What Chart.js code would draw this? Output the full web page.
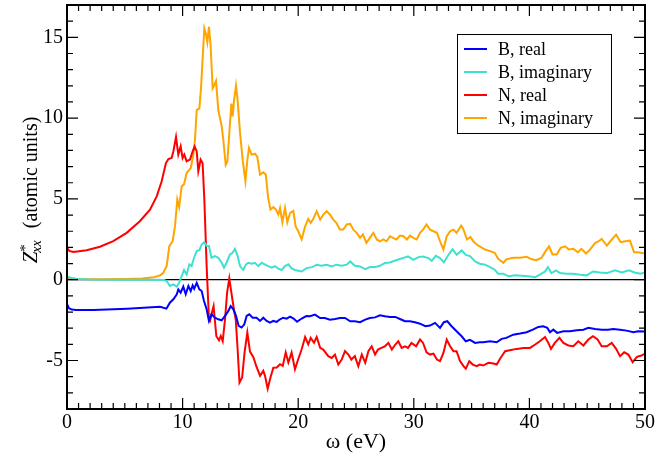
<!DOCTYPE html>
<html>
<head>
<meta charset="utf-8">
<script src="https://cdn.jsdelivr.net/npm/chart.js@4.4.1/dist/chart.umd.min.js"></script>
<style>
  html, body { margin: 0; padding: 0; background: #fff; }
  #wrap { width: 669px; height: 458px; position: relative; }
</style>
</head>
<body>
<div id="wrap"><canvas id="plot"></canvas></div>
<script>
// [omega (eV), Z*xx]
const bReal = [[0,-1.5],[0.15,-1.75],[0.4,-1.85],[0.8,-1.88],[2.3,-1.87],[5.2,-1.79],[8.05,-1.67],[8.6,-1.79],[8.9,-1.42],[9.2,-1.21],[9.5,-0.9],[9.63,-0.6],[9.83,-0.8],[10.06,-0.43],[10.27,-0.9],[10.5,-0.39],[10.7,-0.7],[10.87,-0.35],[11.0,-0.56],[11.22,-0.19],[11.45,-0.6],[11.65,-0.7],[11.85,-1.32],[12.08,-1.83],[12.28,-2.55],[12.5,-2.14],[12.8,-2.35],[13.09,-2.45],[13.38,-2.51],[13.67,-2.24],[13.96,-1.93],[14.16,-1.63],[14.39,-1.83],[14.62,-2.24],[14.85,-2.86],[15.1,-2.96],[15.34,-2.76],[15.54,-2.24],[15.77,-2.14],[16.06,-2.35],[16.4,-2.35],[16.7,-2.55],[16.98,-2.35],[17.27,-2.55],[17.56,-2.65],[17.85,-2.55],[18.14,-2.61],[18.43,-2.45],[18.7,-2.35],[19.0,-2.41],[19.3,-2.28],[19.6,-2.4],[19.9,-2.6],[20.3,-2.4],[20.7,-2.25],[21.02,-2.26],[21.45,-2.16],[21.9,-2.37],[22.3,-2.37],[22.75,-2.47],[23.2,-2.43],[23.6,-2.37],[24.05,-2.37],[24.5,-2.57],[24.9,-2.57],[25.35,-2.63],[25.8,-2.47],[26.2,-2.37],[26.65,-2.33],[27.07,-2.2],[27.5,-2.26],[27.94,-2.3],[28.4,-2.3],[28.8,-2.43],[29.24,-2.57],[29.67,-2.57],[30.1,-2.63],[30.54,-2.72],[31.0,-2.88],[31.4,-2.84],[31.84,-2.67],[32.27,-2.98],[32.6,-2.63],[32.9,-2.57],[33.27,-2.88],[33.7,-3.19],[34.14,-3.5],[34.5,-3.81],[34.86,-3.72],[35.3,-3.91],[35.7,-3.87],[36.0,-3.87],[36.6,-3.81],[37.17,-3.87],[37.6,-3.66],[38.0,-3.6],[38.6,-3.4],[39.2,-3.33],[39.76,-3.25],[40.3,-3.09],[40.77,-2.92],[41.2,-2.88],[41.55,-2.98],[41.78,-3.25],[42.07,-3.09],[42.4,-3.29],[42.94,-3.19],[43.5,-3.19],[44.1,-3.13],[44.67,-3.09],[45.1,-2.98],[45.68,-3.05],[46.25,-3.09],[46.8,-3.09],[47.26,-3.05],[47.84,-3.09],[48.4,-3.15],[49.0,-3.25],[49.4,-3.19],[50,-3.2]];

const bImag = [[0,0.2],[0.3,0.12],[0.8,0.05],[2,0.02],[5,0.0],[8.0,0.0],[8.4,-0.02],[8.62,-0.08],[8.9,-0.39],[9.2,-0.29],[9.49,-0.43],[9.7,-0.19],[9.92,0.23],[10.12,0.6],[10.35,0.33],[10.58,0.95],[10.78,0.84],[10.99,1.36],[11.22,1.77],[11.45,1.83],[11.65,2.18],[11.88,2.33],[12.08,2.08],[12.28,2.08],[12.5,1.36],[12.8,1.46],[13.09,1.36],[13.38,1.05],[13.58,0.74],[13.8,1.05],[14.1,1.56],[14.33,1.67],[14.53,1.91],[14.76,1.46],[14.97,0.84],[15.25,0.6],[15.48,0.95],[15.68,1.05],[15.97,0.99],[16.26,1.05],[16.55,0.84],[16.84,1.05],[17.1,0.95],[17.4,0.84],[17.7,0.74],[18.0,0.84],[18.28,0.68],[18.57,0.6],[18.86,0.84],[19.15,0.95],[19.43,0.7],[19.72,0.6],[20.3,0.51],[20.73,0.72],[21.2,0.78],[21.6,0.93],[22.0,0.86],[22.46,0.93],[22.9,0.82],[23.3,0.93],[23.76,0.86],[24.2,0.93],[24.5,1.13],[24.9,0.86],[25.35,0.82],[25.8,0.66],[26.2,0.78],[26.65,0.78],[27.07,0.86],[27.5,1.03],[27.94,1.07],[28.4,1.19],[28.8,1.28],[29.24,1.38],[29.5,1.44],[29.96,1.23],[30.4,1.4],[30.8,1.44],[31.26,1.34],[31.55,1.17],[31.9,1.48],[32.27,1.34],[32.6,1.07],[33.0,1.54],[33.36,1.89],[33.7,1.54],[34.14,1.81],[34.5,1.54],[34.86,1.46],[35.3,1.13],[35.7,0.99],[36.16,0.93],[36.6,0.78],[37.0,0.62],[37.3,0.37],[37.75,0.37],[38.2,0.21],[38.8,0.27],[39.33,0.25],[39.9,0.21],[40.5,0.16],[40.9,0.31],[41.35,0.51],[41.6,0.78],[41.9,0.41],[42.3,0.58],[42.65,0.41],[43.2,0.37],[43.8,0.37],[44.4,0.31],[44.95,0.27],[45.5,0.51],[46.1,0.45],[46.7,0.41],[47.4,0.58],[48.0,0.45],[48.6,0.58],[49.1,0.45],[49.6,0.37],[50,0.45]];

const nReal = [[0,1.98],[0.2,1.78],[0.55,1.71],[1.7,1.83],[2.85,2.04],[4.0,2.39],[5.16,2.9],[6.3,3.62],[7.18,4.34],[7.76,5.16],[8.19,6.09],[8.56,7.22],[8.77,7.47],[9.05,7.53],[9.2,7.94],[9.43,8.83],[9.63,7.74],[9.83,8.25],[10.0,7.53],[10.15,7.74],[10.35,7.33],[10.64,7.43],[10.87,7.94],[11.04,8.25],[11.22,7.94],[11.36,6.71],[11.56,7.43],[11.73,7.22],[11.88,4.96],[12.08,0.84],[12.28,-2.45],[12.37,-2.55],[12.5,-2.14],[12.68,-1.63],[12.92,-3.5],[13.15,-3.75],[13.3,-3.48],[13.47,-3.8],[13.67,-2.45],[13.85,-0.8],[14.04,0.08],[14.22,-0.8],[14.42,-1.75],[14.6,-2.5],[14.76,-4.3],[14.92,-6.36],[15.15,-6.05],[15.36,-4.5],[15.6,-3.27],[15.83,-4.45],[16.12,-4.8],[16.4,-5.4],[16.7,-5.95],[16.98,-5.64],[17.13,-5.95],[17.36,-6.75],[17.6,-6.05],[17.85,-5.45],[18.14,-5.43],[18.43,-5.23],[18.66,-5.33],[18.92,-4.5],[19.15,-5.12],[19.43,-4.5],[19.72,-5.54],[20.0,-4.92],[20.3,-4.3],[20.6,-3.55],[20.87,-4.0],[21.08,-3.6],[21.37,-3.9],[21.6,-3.54],[21.9,-4.22],[22.17,-4.32],[22.6,-4.73],[22.9,-4.84],[23.18,-4.63],[23.47,-5.25],[23.76,-4.94],[24.05,-4.42],[24.34,-4.63],[24.6,-4.94],[24.9,-4.73],[25.2,-5.35],[25.5,-4.63],[25.8,-5.14],[26.07,-4.42],[26.36,-4.12],[26.65,-4.63],[26.9,-4.32],[27.2,-4.22],[27.5,-4.12],[27.8,-3.91],[28.1,-4.32],[28.4,-4.01],[28.66,-3.81],[28.95,-4.22],[29.24,-4.12],[29.5,-4.22],[29.8,-3.91],[30.2,-4.12],[30.54,-3.7],[30.8,-3.91],[31.1,-4.49],[31.4,-4.63],[31.7,-4.57],[32.0,-4.94],[32.27,-5.04],[32.56,-4.53],[32.85,-3.7],[33.14,-4.12],[33.43,-4.42],[33.7,-4.42],[34.0,-5.04],[34.3,-5.35],[34.5,-5.51],[34.8,-5.04],[35.1,-5.25],[35.44,-5.35],[35.7,-5.25],[36.0,-5.31],[36.45,-5.14],[36.9,-5.19],[37.17,-5.25],[37.5,-4.84],[37.9,-4.42],[38.3,-4.36],[38.9,-4.28],[39.5,-4.22],[40.05,-4.22],[40.5,-4.01],[40.9,-3.81],[41.35,-3.54],[41.64,-3.91],[41.87,-4.28],[42.2,-3.91],[42.6,-3.6],[42.94,-3.91],[43.37,-4.07],[43.8,-4.12],[44.23,-3.81],[44.67,-4.07],[45.1,-3.7],[45.5,-3.5],[45.9,-3.7],[46.25,-4.12],[46.7,-4.12],[47.12,-3.91],[47.5,-4.28],[47.84,-4.73],[48.2,-4.49],[48.56,-4.63],[48.93,-5.1],[49.3,-4.77],[49.7,-4.69],[50,-4.57]];

const nImag = [[0,0.15],[0.3,0.08],[1,0.04],[3,0.03],[5,0.04],[6.5,0.07],[7.5,0.15],[8.05,0.27],[8.33,0.43],[8.62,0.84],[8.85,2.08],[9.14,2.39],[9.34,3.3],[9.54,4.96],[9.7,4.5],[9.92,5.78],[10.12,5.9],[10.35,6.6],[10.7,6.9],[10.93,7.7],[11.07,8.66],[11.22,10.5],[11.45,10.6],[11.6,11.95],[11.79,14.4],[11.88,15.55],[12.02,15.2],[12.14,14.7],[12.28,15.65],[12.43,14.4],[12.6,11.85],[12.74,12.05],[12.89,12.3],[13.09,10.5],[13.38,9.5],[13.52,8.66],[13.73,7.1],[13.87,7.3],[14.04,9.07],[14.22,10.9],[14.33,10.1],[14.45,11.1],[14.62,12.0],[14.76,11.1],[14.97,9.07],[15.2,7.4],[15.43,6.1],[15.6,7.4],[15.74,8.15],[15.97,7.74],[16.26,7.8],[16.46,7.6],[16.7,6.5],[16.98,6.65],[17.2,6.5],[17.4,5.06],[17.6,4.34],[17.85,4.5],[18.08,4.34],[18.28,4.03],[18.43,4.44],[18.63,3.56],[18.86,4.44],[19.06,3.56],[19.3,4.14],[19.58,4.26],[19.78,3.3],[20.0,3.0],[20.3,2.5],[20.6,3.3],[20.87,3.76],[21.08,3.52],[21.3,3.76],[21.6,4.24],[21.9,3.72],[22.17,4.03],[22.46,4.24],[22.75,4.03],[23.04,3.72],[23.3,3.52],[23.6,3.1],[23.9,3.1],[24.2,3.42],[24.5,3.46],[24.77,3.1],[25.06,2.9],[25.35,2.59],[25.6,2.8],[25.9,2.28],[26.2,2.59],[26.5,2.9],[26.8,2.49],[27.07,2.38],[27.36,2.49],[27.65,2.38],[27.94,2.69],[28.2,2.59],[28.5,2.49],[28.8,2.73],[29.1,2.69],[29.4,2.49],[29.67,2.73],[29.96,2.59],[30.25,2.49],[30.54,2.9],[30.8,3.1],[31.1,3.42],[31.4,3.1],[31.7,3.0],[32.0,2.9],[32.27,2.38],[32.56,1.87],[32.85,2.69],[33.14,3.0],[33.43,3.1],[33.7,2.9],[34.1,3.35],[34.3,3.1],[34.6,2.49],[34.9,2.65],[35.15,2.38],[35.44,2.18],[35.7,2.07],[36.16,1.87],[36.6,1.77],[37.0,1.67],[37.3,1.3],[37.75,1.05],[38.0,1.26],[38.6,1.36],[39.2,1.36],[39.76,1.42],[40.2,1.26],[40.6,1.21],[41.06,1.36],[41.4,1.77],[41.7,2.07],[42.0,1.56],[42.36,1.56],[42.7,1.97],[43.1,2.07],[43.4,1.87],[43.8,1.91],[44.2,1.7],[44.5,1.91],[44.9,1.62],[45.2,1.83],[45.7,2.28],[46.0,2.38],[46.25,2.53],[46.7,2.11],[47.0,2.38],[47.5,2.79],[47.9,2.32],[48.3,2.38],[48.7,2.42],[49.05,1.7],[49.4,1.7],[50,1.62]];

const labels = ["B, real", "B, imaginary", "N, real", "N, imaginary"];
const colors = ["#0000ff", "#40e0d0", "#ff0000", "#ffa500"];
const xTicks = [0, 10, 20, 30, 40, 50];
const yTicks = [-5, 0, 5, 10, 15];

const SERIF = "'Liberation Serif'";

const toXY = (arr) => arr.map(([x, y]) => ({ x: x, y: y }));

const decor = {
  id: "decor",
  beforeDatasetsDraw(chart) {
    const { ctx, chartArea: a, scales: { y } } = chart;
    const y0 = y.getPixelForValue(0);
    ctx.save();
    ctx.strokeStyle = "#000";
    ctx.lineWidth = 1.3;
    ctx.beginPath();
    ctx.moveTo(a.left, y0);
    ctx.lineTo(a.right, y0);
    ctx.stroke();
    ctx.restore();
  },
  afterDraw(chart) {
    const { ctx, chartArea: a, scales: { x, y } } = chart;
    ctx.save();
    ctx.strokeStyle = "#000";
    ctx.lineWidth = 1.2;
    // tick marks, pointing inwards on all four sides
    ctx.beginPath();
    for (let v = 0; v <= 50; v++) {
      const px = x.getPixelForValue(v);
      const len = v % 10 === 0 ? 11 : 6;
      ctx.moveTo(px, a.bottom); ctx.lineTo(px, a.bottom - len);
      ctx.moveTo(px, a.top); ctx.lineTo(px, a.top + len);
    }
    for (let v = -8; v <= 17; v++) {
      const py = y.getPixelForValue(v);
      const len = v % 5 === 0 ? 11 : 6;
      ctx.moveTo(a.left, py); ctx.lineTo(a.left + len, py);
      ctx.moveTo(a.right, py); ctx.lineTo(a.right - len, py);
    }
    ctx.stroke();
    // frame
    ctx.lineWidth = 2;
    ctx.strokeRect(a.left, a.top, a.right - a.left, a.bottom - a.top);

    // tick labels (drawn here so they get the serif face)
    ctx.fillStyle = "#000";
    ctx.font = "20px " + SERIF;
    ctx.textAlign = "center";
    ctx.textBaseline = "top";
    xTicks.forEach(v => ctx.fillText(String(v), x.getPixelForValue(v), a.bottom + 4));
    ctx.textAlign = "right";
    ctx.textBaseline = "middle";
    yTicks.forEach(v => ctx.fillText(String(v), a.left - 4, y.getPixelForValue(v)));

    // legend
    const lx = 457, ly = 34, lw = 154, lh = 99;
    ctx.fillStyle = "#fff";
    ctx.fillRect(lx, ly, lw, lh);
    ctx.lineWidth = 1;
    ctx.strokeRect(lx + 0.5, ly + 0.5, lw, lh);
    ctx.font = "18px " + SERIF;
    ctx.textBaseline = "middle";
    ctx.textAlign = "left";
    chart.data.datasets.forEach((ds, i) => {
      const ry = ly + 15 + i * 23;
      ctx.strokeStyle = ds.borderColor;
      ctx.lineWidth = 2;
      ctx.beginPath();
      ctx.moveTo(464, ry); ctx.lineTo(487, ry);
      ctx.stroke();
      ctx.fillStyle = "#000";
      ctx.fillText(ds.label, 498, ry + 1);
    });

    // x title
    ctx.fillStyle = "#000";
    ctx.textAlign = "center";
    ctx.textBaseline = "middle";
    ctx.font = "22px " + SERIF;
    ctx.fillText("ω (eV)", (a.left + a.right) / 2, 442);

    // y title: Z*_xx (atomic units), rotated
    const big = "20px " + SERIF, bigI = "italic 21px " + SERIF, small = "italic 14px " + SERIF;
    ctx.font = bigI; const wZ = ctx.measureText("Z").width;
    ctx.font = small; const wS = ctx.measureText("xx").width;
    ctx.font = big; const wT = ctx.measureText("  (atomic units)").width;
    const total = wZ + wS + 1 + wT;
    ctx.translate(30, 190 + total / 2);
    ctx.rotate(-Math.PI / 2);
    ctx.textAlign = "left";
    ctx.textBaseline = "alphabetic";
    ctx.font = bigI;
    ctx.fillText("Z", 0, 7);
    ctx.font = "15px " + SERIF;
    ctx.fillText("*", wZ, 0);
    ctx.font = small;
    ctx.fillText("xx", wZ - 1, 11);
    ctx.font = big;
    ctx.fillText("  (atomic units)", wZ + wS + 1, 7);
    ctx.restore();
  }
};

const series = [bReal, bImag, nReal, nImag];

const build = () => new Chart(document.getElementById("plot"), {
  type: "scatter",
  data: {
    datasets: series.map((s, i) => ({
      label: labels[i],
      data: toXY(s),
      borderColor: colors[i],
      backgroundColor: colors[i],
      showLine: true,
      borderWidth: 2,
      pointRadius: 0,
      tension: 0
    }))
  },
  options: {
    responsive: true,
    maintainAspectRatio: false,
    animation: false,
    layout: { padding: { left: 0, right: 24, top: 5, bottom: 0 } },
    plugins: {
      legend: { display: false },
      tooltip: { enabled: false }
    },
    scales: {
      x: {
        type: "linear",
        min: 0,
        max: 50,
        grid: { display: false, drawTicks: false },
        border: { display: false },
        ticks: { display: false },
        afterBuildTicks: (s) => { s.ticks = xTicks.map(v => ({ value: v })); },
        afterFit: (s) => { s.height = 49; }
      },
      y: {
        type: "linear",
        min: -8,
        max: 17,
        grid: { display: false, drawTicks: false },
        border: { display: false },
        ticks: { display: false },
        afterBuildTicks: (s) => { s.ticks = yTicks.map(v => ({ value: v })); },
        afterFit: (s) => { s.width = 67; }
      }
    }
  },
  plugins: [decor]
});

const chart = build();
// redraw once the serif faces are surely in
Promise.all([
  document.fonts.load("20px 'Liberation Serif'"),
  document.fonts.load("italic 20px 'Liberation Serif'")
]).then(() => chart.draw());
setTimeout(() => chart.draw(), 150);
</script>
</body>
</html>
